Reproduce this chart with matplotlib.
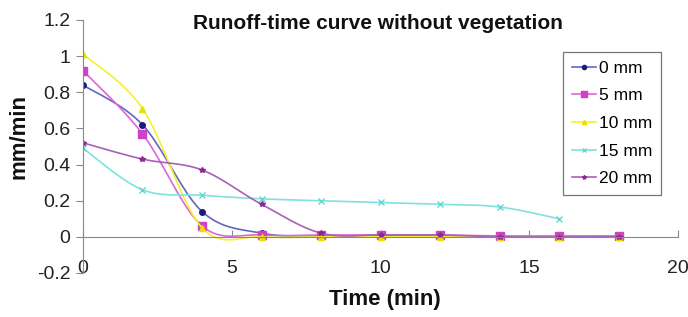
import numpy as np
import matplotlib
matplotlib.use('Agg')
import matplotlib.pyplot as plt

plt.rcParams['font.family'] = ['Liberation Sans', 'DejaVu Sans']

# data (time in min, runoff in mm/min)
t = [0, 2, 4, 6, 8, 10, 12, 14, 16, 18]
t15 = [0, 2, 4, 6, 8, 10, 12, 14, 16]
labels = ['0 mm', '5 mm', '10 mm', '15 mm', '20 mm']
r0 = [0.84, 0.62, 0.14, 0.02, 0.005, 0.005, 0.005, 0.0, 0.0, 0.0]
r5 = [0.92, 0.57, 0.06, 0.01, 0.01, 0.01, 0.01, 0.005, 0.005, 0.005]
r10 = [1.01, 0.71, 0.05, 0.0, 0.0, 0.0, 0.0, 0.0, 0.0, 0.0]
r15 = [0.49, 0.26, 0.23, 0.21, 0.20, 0.19, 0.18, 0.165, 0.10]
r20 = [0.52, 0.43, 0.37, 0.18, 0.02, 0.01, 0.01, 0.0, 0.0, 0.0]

line_cols = ['#6565c0', '#e065d5', '#f2f230', '#80e2dc', '#a860b8']
mark_cols = ['#1c1c80', '#d040c8', '#e8e000', '#60d8d0', '#8a2890']
markers = ['o', 's', '^', 'x', '*']
msizes = [4, 6, 4, 4, 4]


def smooth(x, y, n=20, tension=0.5):
    # cardinal spline through the points, like excel's smoothed line
    x = np.asarray(x, float)
    y = np.asarray(y, float)
    px = np.concatenate([[x[0]], x, [x[-1]]])
    py = np.concatenate([[y[0]], y, [y[-1]]])
    xs, ys = [], []
    s = np.linspace(0, 1, n)
    for i in range(1, len(px) - 2):
        m1x = tension * (px[i + 1] - px[i - 1])
        m1y = tension * (py[i + 1] - py[i - 1])
        m2x = tension * (px[i + 2] - px[i])
        m2y = tension * (py[i + 2] - py[i])
        h00 = 2 * s**3 - 3 * s**2 + 1
        h10 = s**3 - 2 * s**2 + s
        h01 = -2 * s**3 + 3 * s**2
        h11 = s**3 - s**2
        xs.append(h00 * px[i] + h10 * m1x + h01 * px[i + 1] + h11 * m2x)
        ys.append(h00 * py[i] + h10 * m1y + h01 * py[i + 1] + h11 * m2y)
    return np.concatenate(xs), np.concatenate(ys)


fig = plt.figure(figsize=(6.88, 3.17), dpi=100)
ax = fig.add_axes([0.1206, 0.139, 0.865, 0.798])

series = [(t, r0), (t, r5), (t, r10), (t15, r15), (t, r20)]
handles = []
for i, (x, y) in enumerate(series):
    sx, sy = smooth(x, y)
    ax.plot(sx, sy, color=line_cols[i], lw=1.2)
    ax.plot(x, y, ls='none', marker=markers[i], ms=msizes[i],
            color=mark_cols[i], mew=1)
    h, = ax.plot([], [], color=line_cols[i], lw=1.2, marker=markers[i],
                 ms=msizes[i] - 1, mfc=mark_cols[i], mec=mark_cols[i])
    handles.append(h)

ax.set_xlim(0, 20)
ax.set_ylim(-0.2, 1.2)
ax.set_xticks([0, 5, 10, 15, 20])
ax.set_yticks([-0.2, 0, 0.2, 0.4, 0.6, 0.8, 1.0, 1.2])
ax.set_yticklabels(['-0.2', '0', '0.2', '0.4', '0.6', '0.8', '1', '1.2'])

ax.spines['top'].set_visible(False)
ax.spines['right'].set_visible(False)
ax.spines['bottom'].set_position(('data', 0))
ax.spines['bottom'].set_color('#888888')
ax.spines['left'].set_color('#888888')
ax.tick_params(axis='y', direction='out', length=5, color='#888888',
               labelsize=14, pad=4, labelcolor='#222222')
ax.tick_params(axis='x', direction='in', length=5, color='#888888',
               labelsize=14, pad=17, labelcolor='#222222')

fig.text(0.549, 0.927, 'Runoff-time curve without vegetation', fontsize=15,
         fontweight='bold', ha='center', va='center', color='#111111')
fig.text(0.028, 0.568, 'mm/min', fontsize=16, fontweight='bold',
         rotation=90, ha='center', va='center', color='#111111')
fig.text(0.56, 0.054, 'Time (min)', fontsize=16, fontweight='bold',
         ha='center', va='center', color='#111111')

leg = ax.legend(handles, labels, loc='upper right',
                bbox_to_anchor=(0.971, 0.874), fontsize=12.5, fancybox=False,
                edgecolor='#555555', handlelength=1.4, handletextpad=0.15,
                labelspacing=0.72, borderpad=0.5, borderaxespad=0)
leg.get_frame().set_linewidth(0.9)

fig.savefig('out.png', dpi=100)
